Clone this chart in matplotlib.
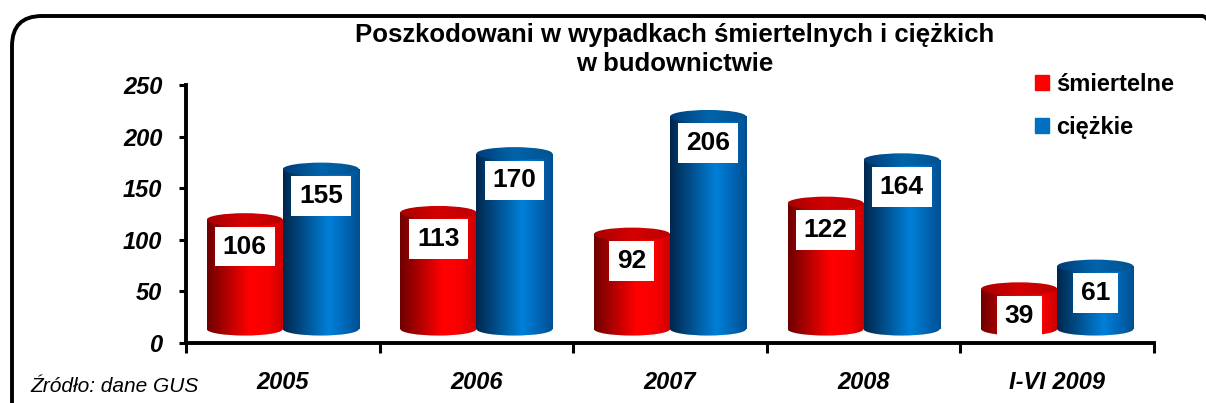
import matplotlib
matplotlib.use("Agg")
import matplotlib.pyplot as plt
import numpy as np
from matplotlib.patches import Rectangle, Ellipse, FancyBboxPatch, Patch
from matplotlib.colors import LinearSegmentedColormap

plt.rcParams["font.family"] = ["Liberation Sans", "DejaVu Sans"]

# dane
categories = ["2005", "2006", "2007", "2008", "I-VI 2009"]
smiertelne = [106, 113, 92, 122, 39]
ciezkie = [155, 170, 206, 164, 61]
series_names = ["śmiertelne", "ciężkie"]

RED, BLUE = "#FF0000", "#0070C0"
red_body = LinearSegmentedColormap.from_list("rb", [(0, "#6E0000"), (0.55, "#FF0000"), (0.8, "#F80000"), (1, "#C80000")])
blue_body = LinearSegmentedColormap.from_list("bb", [(0, "#00264C"), (0.6, "#0080D8"), (0.8, "#0068B8"), (1, "#004F90")])
red_top = LinearSegmentedColormap.from_list("rt", [(0, "#A80000"), (0.5, "#D40000"), (1, "#BC0000")])
blue_top = LinearSegmentedColormap.from_list("bt", [(0, "#003C78"), (0.5, "#0064AA"), (1, "#00528F")])

W, H = 1206, 403
fig = plt.figure(figsize=(W / 100, H / 100), dpi=100)
ax = fig.add_axes([186 / W, 60 / H, 968 / W, 258 / H])
ax.set_xlim(-0.5, 4.5)
ax.set_ylim(0, 250)

BW = 0.393      # szerokosc walca
BASE = 13.5     # przesuniecie podstawy (efekt 3D)
EH = 12.6       # wysokosc elipsy
grad = np.linspace(0, 1, 256).reshape(1, -1)


def cylinder(xc, v, body, top):
    x0, x1 = xc - BW / 2, xc + BW / 2
    y0, y1 = BASE, BASE + v
    rect = Rectangle((x0, y0), BW, v, fc="none", ec="none")
    bot = Ellipse((xc, y0), BW, EH, fc="none", ec="none")
    for clip in (rect, bot):
        ax.add_patch(clip)
        im = ax.imshow(grad, cmap=body, extent=[x0, x1, y0 - EH, y1], aspect="auto",
                       interpolation="bilinear", zorder=2)
        im.set_clip_path(clip)
    tp = Ellipse((xc, y1), BW, EH, fc="none", ec="none")
    ax.add_patch(tp)
    im = ax.imshow(grad, cmap=top, extent=[x0, x1, y1 - EH / 2, y1 + EH / 2], aspect="auto",
                   interpolation="bilinear", zorder=3)
    im.set_clip_path(tp)
    ax.text(xc, y1 - 26, str(v), ha="center", va="center", fontsize=19, fontweight="bold",
            zorder=4, bbox=dict(boxstyle="square,pad=0.3", fc="white", ec="none"))


x = np.arange(len(categories))
for i in x:
    cylinder(i - BW / 2, smiertelne[i], red_body, red_top)
    cylinder(i + BW / 2, ciezkie[i], blue_body, blue_top)

ax.set_xlim(-0.5, 4.5)
ax.set_ylim(0, 250)
ax.spines[["top", "right"]].set_visible(False)
for s in ("left", "bottom"):
    ax.spines[s].set_linewidth(2.8)
ax.set_yticks(range(0, 251, 50))
ax.tick_params(axis="y", length=5, width=2.2, pad=12, labelsize=17)
for t in ax.get_yticklabels():
    t.set_fontweight("bold"); t.set_fontstyle("italic")
ax.set_xticks(x)
ax.set_xticklabels(categories, fontsize=17, fontweight="bold", fontstyle="italic")
ax.tick_params(axis="x", length=0, pad=20)
ax.set_xticks(np.arange(-0.5, 5, 1), minor=True)
ax.tick_params(axis="x", which="minor", length=7, width=2.2)

fig.text(675 / W, 1 - 35 / H, "Poszkodowani w wypadkach śmiertelnych i ciężkich",
         ha="center", va="center", fontsize=18.5, fontweight="bold")
fig.text(675 / W, 1 - 64 / H, "w budownictwie", ha="center", va="center",
         fontsize=18.5, fontweight="bold")

fig.legend(handles=[Patch(color=RED), Patch(color=BLUE)], labels=series_names,
           loc="upper left", bbox_to_anchor=(1014 / W, 1 - 52 / H), frameon=False,
           prop=dict(size=17, weight="bold"), handlelength=0.6, handleheight=0.6,
           handletextpad=0.3, labelspacing=0.85)

fig.text(30 / W, 1 - 387 / H, "Źródło: dane GUS", ha="left", va="center",
         fontsize=15, fontstyle="italic")

frame = FancyBboxPatch((0.12, -0.4), 12.2, 4.27, boxstyle="round,pad=0,rounding_size=0.3",
                       transform=fig.dpi_scale_trans, fc="none", ec="black", lw=2.8, clip_on=False)
fig.patches.append(frame)

fig.savefig("out.png", dpi=100)
